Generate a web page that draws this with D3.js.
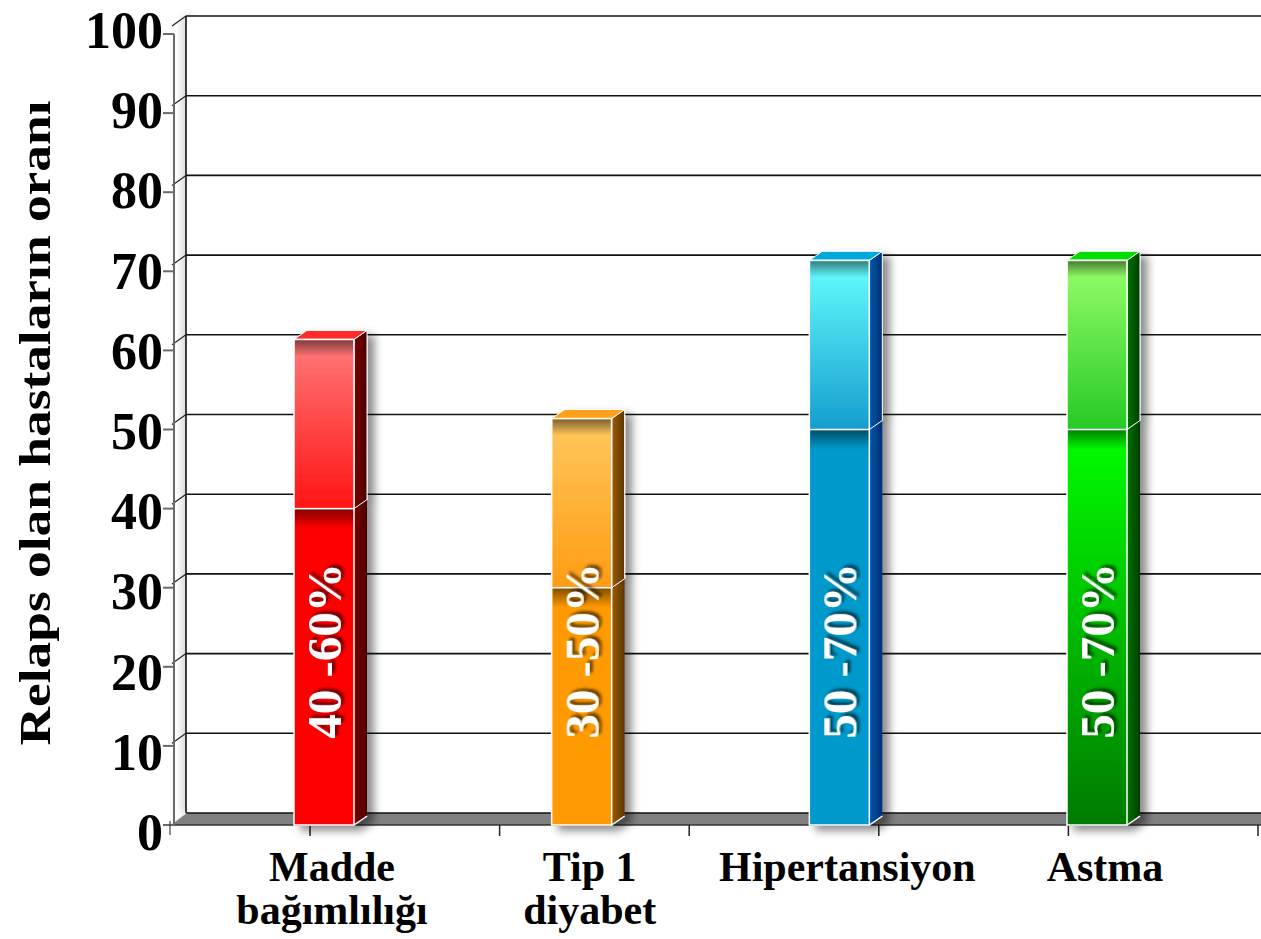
<!DOCTYPE html>
<html>
<head>
<meta charset="utf-8">
<script src="https://cdn.jsdelivr.net/npm/d3@7"></script>
<style>
  html, body { margin: 0; padding: 0; background: #fff; }
  svg { display: block; }
  text { font-family: "Liberation Serif", "Times New Roman", serif; font-weight: bold; }
</style>
</head>
<body>
<svg id="chart" width="1261" height="939"></svg>
<script>
// ---- data ----
const categories = [["Madde", "bağımlılığı"], ["Tip 1", "diyabet"], ["Hipertansiyon"], ["Astma"]];
const lowValues  = [40, 30, 50, 50];
const highValues = [60, 50, 70, 70];
const rangeLabels = ["40 -60%", "30 -50%", "50 -70%", "50 -70%"];
const yTicks = [0, 10, 20, 30, 40, 50, 60, 70, 80, 90, 100];
const yTitle = "Relaps olan hastaların oranı";

// colour themes per bar: lower (top,bottom), upper gradient (top,bottom), side (light,dark), top face
const themes = [
  { low: ["#ff0000", "#ff0000"], up: ["#ff7a7a", "#ff1414"], side: ["#7a0000", "#4a0000"], top: "#ff2a2a" },
  { low: ["#ff9a00", "#ff9a00"], up: ["#ffc85e", "#ff9c14"], side: ["#9a5c00", "#5e3600"], top: "#ff9f1f" },
  { low: ["#0099cc", "#0099cc"], up: ["#66ffff", "#159dcf"], side: ["#0058b0", "#002f70"], top: "#00a8dc" },
  { low: ["#00ff00", "#007a00"], up: ["#97ff6a", "#26c926"], side: ["#007400", "#003c00"], top: "#00dd00" }
];

const svg = d3.select("#chart");
const W = 1261;

// ---- scales ----
const yF = d3.scaleLinear().domain([0, 100]).range([825, 34]);   // front plane
const yB = d3.scaleLinear().domain([0, 100]).range([813, 16]);   // back wall
const yL = d3.scaleLinear().domain([0, 100]).range([850, 48]);   // tick label baselines
const x = d3.scalePoint().domain(d3.range(categories.length)).range([324, 1097]);
const xTick = d3.scaleLinear().domain([0, 5]).range([310, 1258]);
const axisX = 174, wallX = 186;
const barW = 60, dX = 13, dY = -9, lift = 11;

const defs = svg.append("defs");
const sh = defs.append("filter").attr("id", "shadow").attr("x", "-30%").attr("y", "-10%").attr("width", "170%").attr("height", "130%");
sh.append("feDropShadow").attr("dx", 7).attr("dy", 5).attr("stdDeviation", 4).attr("flood-color", "#000").attr("flood-opacity", 0.45);
const tsh = defs.append("filter").attr("id", "tshadow").attr("x", "-20%").attr("y", "-20%").attr("width", "150%").attr("height", "150%");
tsh.append("feDropShadow").attr("dx", 3).attr("dy", 3).attr("stdDeviation", 1.8).attr("flood-color", "#000").attr("flood-opacity", 0.6);
const wsh = defs.append("filter").attr("id", "wshadow").attr("x", "-50%").attr("y", "-5%").attr("width", "200%").attr("height", "110%");
wsh.append("feGaussianBlur").attr("stdDeviation", 4);

function vgrad(id, c0, c1) {
  const g = defs.append("linearGradient").attr("id", id).attr("x1", 0).attr("y1", 0).attr("x2", 0).attr("y2", 1);
  g.append("stop").attr("offset", "0%").attr("stop-color", c0);
  g.append("stop").attr("offset", "100%").attr("stop-color", c1);
}
function hgrad(id, c0, c1) {
  const g = defs.append("linearGradient").attr("id", id).attr("x1", 0).attr("y1", 0).attr("x2", 1).attr("y2", 0);
  g.append("stop").attr("offset", "0%").attr("stop-color", c0);
  g.append("stop").attr("offset", "100%").attr("stop-color", c1);
}
themes.forEach((t, i) => {
  vgrad("low" + i, t.low[0], t.low[1]);
  vgrad("up" + i, t.up[0], t.up[1]);
  hgrad("side" + i, t.side[0], t.side[1]);
});
const ig = defs.append("linearGradient").attr("id", "inner").attr("x1", 0).attr("y1", 0).attr("x2", 0).attr("y2", 1);
ig.append("stop").attr("offset", "0%").attr("stop-color", "#000").attr("stop-opacity", 0.5);
ig.append("stop").attr("offset", "100%").attr("stop-color", "#000").attr("stop-opacity", 0);

// ---- back wall ----
svg.append("rect").attr("x", wallX - 4).attr("y", yB(100)).attr("width", 10).attr("height", yB(0) - yB(100))
  .attr("fill", "#000").attr("opacity", 0.18).attr("filter", "url(#wshadow)");
svg.append("rect").attr("x", wallX).attr("y", yB(100)).attr("width", W - wallX).attr("height", yB(0) - yB(100)).attr("fill", "#fff");

svg.append("g").selectAll("line").data(yTicks.filter(v => v > 0)).join("line")
  .attr("x1", wallX).attr("x2", W).attr("y1", d => yB(d)).attr("y2", d => yB(d))
  .attr("stroke", "#111").attr("stroke-width", 1.6);
svg.append("line").attr("x1", wallX).attr("x2", wallX).attr("y1", yB(100)).attr("y2", yB(0))
  .attr("stroke", "#111").attr("stroke-width", 1.6);
svg.append("g").selectAll("line").data(yTicks.filter(v => v > 0)).join("line")
  .attr("x1", axisX - 2).attr("x2", wallX).attr("y1", d => yB(d) + 10).attr("y2", d => yB(d))
  .attr("stroke", "#222").attr("stroke-width", 1.2);

// ---- floor ----
svg.append("path")
  .attr("d", `M${axisX - 4},${yF(0)} L${wallX},${yB(0)} L${W},${yB(0)} L${W},${yF(0)} Z`)
  .attr("fill", "#808080");
svg.append("line").attr("x1", wallX).attr("x2", W).attr("y1", yB(0)).attr("y2", yB(0)).attr("stroke", "#111").attr("stroke-width", 1.6);
svg.append("line").attr("x1", axisX - 4).attr("x2", W).attr("y1", yF(0)).attr("y2", yF(0)).attr("stroke", "#333").attr("stroke-width", 1.4);
svg.append("line").attr("x1", axisX - 4).attr("x2", wallX).attr("y1", yF(0)).attr("y2", yB(0)).attr("stroke", "#eee").attr("stroke-width", 1.2);

// ---- front y axis ----
svg.append("line").attr("x1", axisX).attr("x2", axisX).attr("y1", yF(100)).attr("y2", yF(0))
  .attr("stroke", "#6a6a6a").attr("stroke-width", 2);
svg.append("g").selectAll("line").data(yTicks).join("line")
  .attr("x1", axisX - 11).attr("x2", axisX).attr("y1", d => yF(d)).attr("y2", d => yF(d))
  .attr("stroke", "#6a6a6a").attr("stroke-width", 2);
svg.append("line").attr("x1", axisX - 4).attr("x2", axisX - 4).attr("y1", yF(0) - 4).attr("y2", yF(0) + 10)
  .attr("stroke", "#444").attr("stroke-width", 1.2);

// x ticks
svg.append("g").selectAll("line").data(d3.range(6)).join("line")
  .attr("x1", d => xTick(d)).attr("x2", d => xTick(d)).attr("y1", yF(0)).attr("y2", yF(0) + 11)
  .attr("stroke", "#222").attr("stroke-width", 1.5);

// ---- bars ----
const bars = svg.append("g").selectAll("g").data(categories.map((c, i) => i)).join("g")
  .attr("filter", "url(#shadow)");

bars.each(function (i) {
  const g = d3.select(this);
  const cx = x(i), x0 = cx - barW / 2, x1 = cx + barW / 2;
  const y0 = yF(0), yl = yF(lowValues[i]), yt = yF(highValues[i]) - lift;

  g.append("path").attr("d", `M${x1},${yl} L${x1 + dX},${yl + dY} L${x1 + dX},${y0 + dY} L${x1},${y0} Z`)
    .attr("fill", `url(#side${i})`);
  g.append("rect").attr("x", x0).attr("y", yl).attr("width", barW).attr("height", y0 - yl)
    .attr("fill", `url(#low${i})`).attr("stroke", "#fff").attr("stroke-width", 1.5);
  g.append("path").attr("d", `M${x1},${y0} L${x1 + dX},${y0 + dY}`).attr("stroke", "#fff").attr("stroke-width", 1.2);
  g.append("rect").attr("x", x0 + 1).attr("y", yl).attr("width", barW - 2).attr("height", 20)
    .attr("fill", "url(#inner)");

  g.append("path").attr("d", `M${x1},${yt} L${x1 + dX},${yt + dY} L${x1 + dX},${yl + dY} L${x1},${yl} Z`)
    .attr("fill", `url(#side${i})`).attr("stroke", "#fff").attr("stroke-width", 1);
  g.append("path").attr("d", `M${x0},${yt} L${x0 + dX},${yt + dY} L${x1 + dX},${yt + dY} L${x1},${yt} Z`)
    .attr("fill", themes[i].top).attr("stroke", "#fff").attr("stroke-width", 1);
  g.append("rect").attr("x", x0).attr("y", yt).attr("width", barW).attr("height", yl - yt)
    .attr("fill", `url(#up${i})`).attr("stroke", "#fff").attr("stroke-width", 1.5);
  g.append("rect").attr("x", x0 + 1).attr("y", yt + 1).attr("width", barW - 2).attr("height", 16)
    .attr("fill", "url(#inner)");
});

// in-bar range labels
svg.append("g").selectAll("text").data(rangeLabels).join("text")
  .attr("transform", (d, i) => `translate(${x(i) + 17},${yF(22)}) rotate(-90)`)
  .attr("text-anchor", "middle")
  .attr("font-size", 49)
  .attr("fill", "#fff")
  .attr("filter", "url(#tshadow)")
  .text(d => d);

// ---- y tick labels ----
svg.append("g").selectAll("text").data(yTicks).join("text")
  .attr("x", 163).attr("y", d => yL(d))
  .attr("text-anchor", "end").attr("font-size", 52).attr("fill", "#000")
  .text(d => d);

// y title
svg.append("text")
  .attr("transform", `translate(50,423) rotate(-90)`)
  .attr("text-anchor", "middle").attr("font-size", 44)
  .attr("textLength", 645).attr("lengthAdjust", "spacingAndGlyphs")
  .text(yTitle);

// ---- x labels ----
const xl = svg.append("g").selectAll("text").data(categories).join("text")
  .attr("text-anchor", "middle").attr("font-size", 42).attr("fill", "#000");
xl.each(function (lines, i) {
  const t = d3.select(this);
  lines.forEach((ln, k) => {
    t.append("tspan").attr("x", x(i) + 8).attr("y", 881 + k * 43).text(ln);
  });
});
</script>
</body>
</html>
